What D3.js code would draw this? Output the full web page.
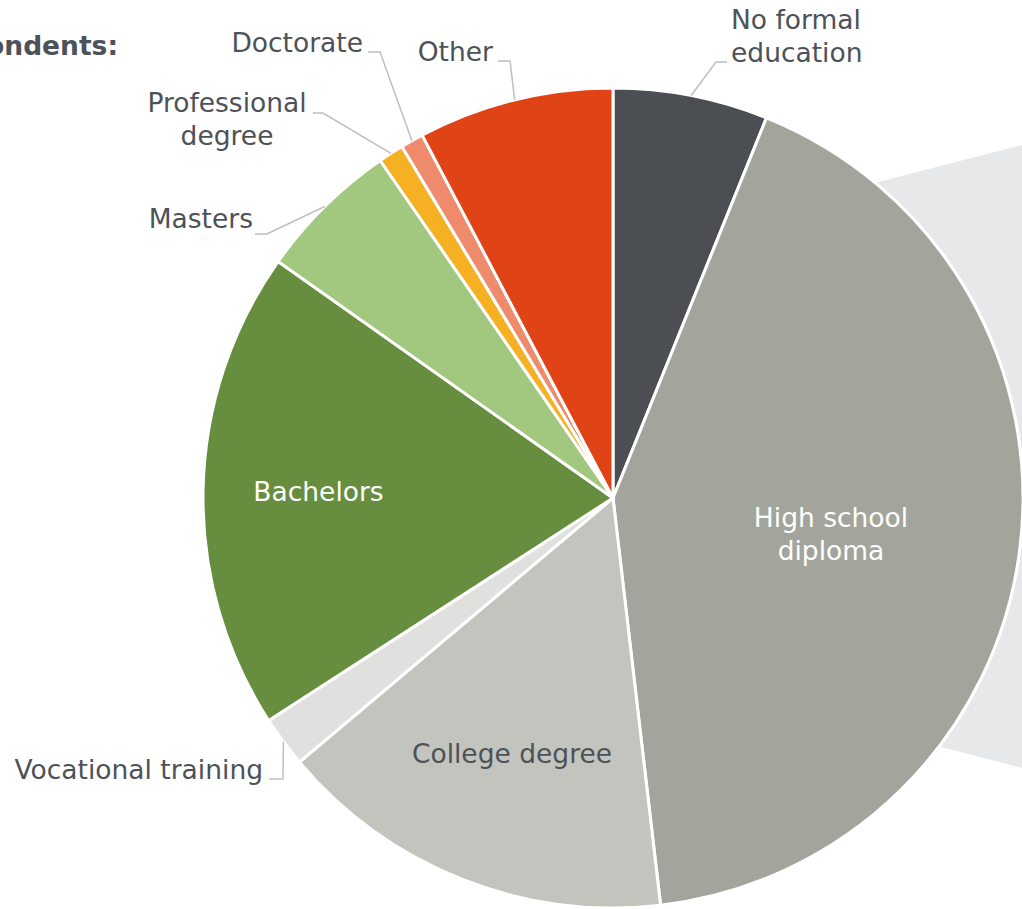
<!DOCTYPE html>
<html>
<head>
<meta charset="utf-8">
<script src="https://cdn.jsdelivr.net/npm/d3@7"></script>
<style>
  html, body { margin: 0; padding: 0; background: #ffffff; }
  svg { display: block; }
  text { font-family: Verdana, "DejaVu Sans", sans-serif; }
</style>
</head>
<body>
<svg id="chart" width="1022" height="909"></svg>
<script>
// ---- data ----
const categories = [
  "No formal education", "High school diploma", "College degree",
  "Vocational training", "Bachelors", "Masters",
  "Professional degree", "Doctorate", "Other"
];
const values = [6.1, 42.0, 15.7, 2.0, 18.9, 5.6, 1.0, 0.9, 7.7];
const colors = ["#4b4e53", "#a3a59c", "#c3c4bd", "#e0e0de", "#668e3e",
                "#a2c77e", "#f5b024", "#f08a6c", "#df4316"];
const labelLines = [
  ["No formal", "education"], ["High school", "diploma"], ["College degree"],
  ["Vocational training"], ["Bachelors"], ["Masters"],
  ["Professional", "degree"], ["Doctorate"], ["Other"]
];
const titleText = "Respondents:";

// ---- layout ----
const W = 1022, H = 909;
const cx = 613, cy = 498, R = 410;
const fontSize = 26.5, lineH = 33;
const textDark = "#4d5258";
const leaderColor = "#bdbfc3";

// label placement (relative to pie centre). type: inside | outside
const labelLayout = [
  { type: "outside", elbow: [103, -436], end: [114, -436], tx: 118, ty: -469, anchor: "start" },
  { type: "inside", tx: 218, ty: 29, anchor: "middle", fill: "#ffffff" },
  { type: "inside", tx: -101, ty: 265, anchor: "middle", fill: textDark },
  { type: "outside", elbow: [-330, 281], end: [-344, 281], tx: -350, ty: 281, anchor: "end" },
  { type: "inside", tx: -294.5, ty: 3, anchor: "middle", fill: "#ffffff" },
  { type: "outside", elbow: [-346, -264], end: [-358, -264], tx: -360, ty: -270, anchor: "end" },
  { type: "outside", elbow: [-290, -385], end: [-300, -385], tx: -386, ty: -386, anchor: "middle" },
  { type: "outside", elbow: [-233, -446], end: [-245, -446], tx: -250, ty: -446, anchor: "end" },
  { type: "outside", elbow: [-103, -437], end: [-115, -437], tx: -120, ty: -437, anchor: "end" }
];

const svg = d3.select("#chart");

// connector band toward the (off-screen) secondary chart
const band = [[87, -270], [W - cx, -353], [W - cx, 270], [87, 186]];
svg.append("polygon")
  .attr("points", band.map(p => [cx + p[0], cy + p[1]].join(",")).join(" "))
  .attr("fill", "#e7e8ea");

// title (clipped by the left edge as in the reference)
svg.append("text")
  .attr("x", 118).attr("y", 55)
  .attr("text-anchor", "end")
  .attr("font-size", fontSize).attr("font-weight", "bold")
  .attr("fill", textDark)
  .text(titleText);

const data = categories.map((c, i) => ({ cat: c, value: values[i], i }));
const pie = d3.pie().value(d => d.value).sort(null).startAngle(0).endAngle(2 * Math.PI);
const arcs = pie(data);
const arc = d3.arc().innerRadius(0).outerRadius(R);

const g = svg.append("g").attr("transform", `translate(${cx},${cy})`);

// white outline behind pie
g.append("circle").attr("r", R + 1.5).attr("fill", "#ffffff");

g.selectAll("path.slice")
  .data(arcs)
  .join("path")
  .attr("class", "slice")
  .attr("d", arc)
  .attr("fill", d => colors[d.data.i])
  .attr("stroke", "#ffffff")
  .attr("stroke-width", 3)
  .attr("stroke-linejoin", "round");

// labels
arcs.forEach(a => {
  const i = a.data.i;
  const L = labelLayout[i];
  const lines = labelLines[i];
  if (L.type === "outside") {
    const mid = (a.startAngle + a.endAngle) / 2;
    const p0 = [Math.sin(mid) * R, -Math.cos(mid) * R];
    g.append("polyline")
      .attr("points", [p0, L.elbow, L.end].map(p => p.join(",")).join(" "))
      .attr("fill", "none")
      .attr("stroke", leaderColor)
      .attr("stroke-width", 1.5);
  }
  const fill = L.fill || textDark;
  const t = g.append("text")
    .attr("text-anchor", L.anchor)
    .attr("font-size", fontSize)
    .attr("fill", fill);
  lines.forEach((ln, k) => {
    t.append("tspan")
      .attr("x", L.tx)
      .attr("y", L.ty + k * lineH)
      .text(ln);
  });
});
</script>
</body>
</html>
